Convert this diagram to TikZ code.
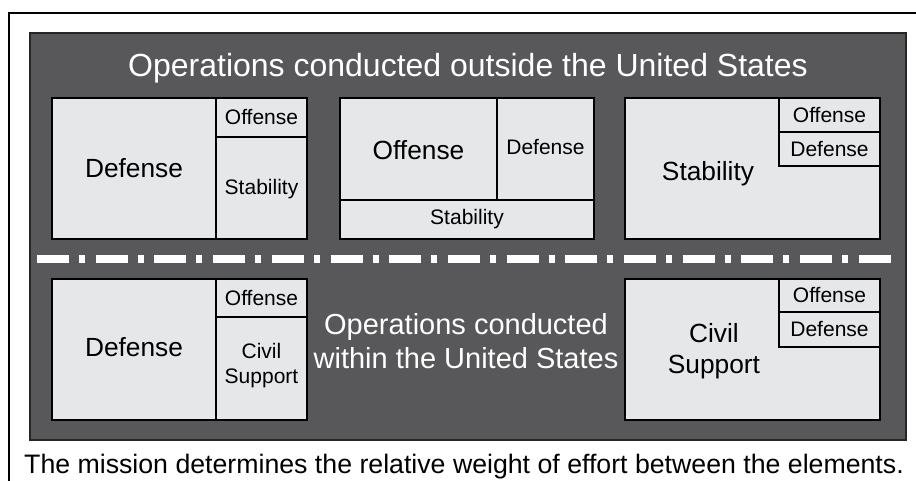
\documentclass[tikz,border=0pt]{standalone}
\usepackage{fontspec}
\setmainfont{Liberation Sans}
\definecolor{panelgray}{HTML}{58585A}
\definecolor{cellgray}{HTML}{E6E7E8}
\begin{document}
\begin{tikzpicture}[x=1pt,y=-1pt,
    cell/.style={draw=black,fill=cellgray,line width=2.2pt},
    rule/.style={draw=black,line width=2.2pt},
    bigtxt/.style={font=\fontsize{26.3}{31.5}\selectfont,align=center,inner sep=0pt},
    smalltxt/.style={font=\fontsize{21}{25}\selectfont,align=center,inner sep=0pt},
    headtxt/.style={text=white,align=center,inner sep=0pt}]
  \useasboundingbox (0,0) rectangle (916,481);
  \fill[white] (0,0) rectangle (916,481);

  % outer frame (left and top only)
  \draw[line width=2pt] (9,481) -- (9,13) -- (916,13);

  % dark panel
  \draw[fill=panelgray,draw=black!85,line width=2pt] (30,33) rectangle (906,440);
  \node[headtxt,font=\fontsize{32}{38}\selectfont,anchor=base] (outside) at (468,77)
    {Operations conducted outside the United States};

  % top row, left
  \draw[cell] (52,98) rectangle (307,239);
  \draw[rule] (216,98) -- (216,239) (216,137) -- (307,137);
  \node[bigtxt] (defA) at (134,168) {Defense};
  \node[smalltxt] (offA) at (261.5,117.5) {Offense};
  \node[smalltxt] (stabA) at (261.5,189.5) {Stability};

  % top row, middle
  \draw[cell] (340,98) rectangle (594,239);
  \draw[rule] (497,98) -- (497,200) (340,200) -- (594,200);
  \node[bigtxt] (offB) at (418.5,150) {Offense};
  \node[smalltxt] (defB) at (545.5,147) {Defense};
  \node[smalltxt] (stabB) at (467,219.5) {Stability};

  % top row, right
  \draw[cell] (625,98) rectangle (880,239);
  \draw[rule] (779,98) -- (779,166) -- (880,166) (779,132) -- (880,132);
  \node[smalltxt] (offC) at (829.5,115) {Offense};
  \node[smalltxt] (defC) at (829.5,149) {Defense};
  \node[bigtxt] (stabC) at (708,174) {Stability};

  % dash-dot divider
  \draw[white,line width=8pt,dash pattern=on 32pt off 10pt on 6pt off 10.7pt]
    (37,258.7) -- (891,258.7);

  % bottom row, left
  \draw[cell] (52,279) rectangle (307,420);
  \draw[rule] (216,279) -- (216,420) (216,317) -- (307,317);
  \node[bigtxt] (defD) at (134,347) {Defense};
  \node[smalltxt] (offD) at (261.5,298) {Offense};
  \node[smalltxt] (civD) at (261.5,366) {Civil\\Support};

  \node[headtxt,font=\fontsize{29}{34}\selectfont] (within) at (466,341)
    {Operations conducted\\within the United States};

  % bottom row, right
  \draw[cell] (625,279) rectangle (880,420);
  \draw[rule] (779,279) -- (779,347) -- (880,347) (779,312) -- (880,312);
  \node[smalltxt] (offE) at (829.5,295.5) {Offense};
  \node[smalltxt] (defE) at (829.5,329.5) {Defense};
  \node[bigtxt] (civE) at (714,351) {Civil\\Support};

  % caption
  \node[font=\fontsize{26.7}{32}\selectfont,anchor=base,inner sep=0pt] (mission) at (464,473)
    {The mission determines the relative weight of effort between the elements.};
\end{tikzpicture}
\end{document}
